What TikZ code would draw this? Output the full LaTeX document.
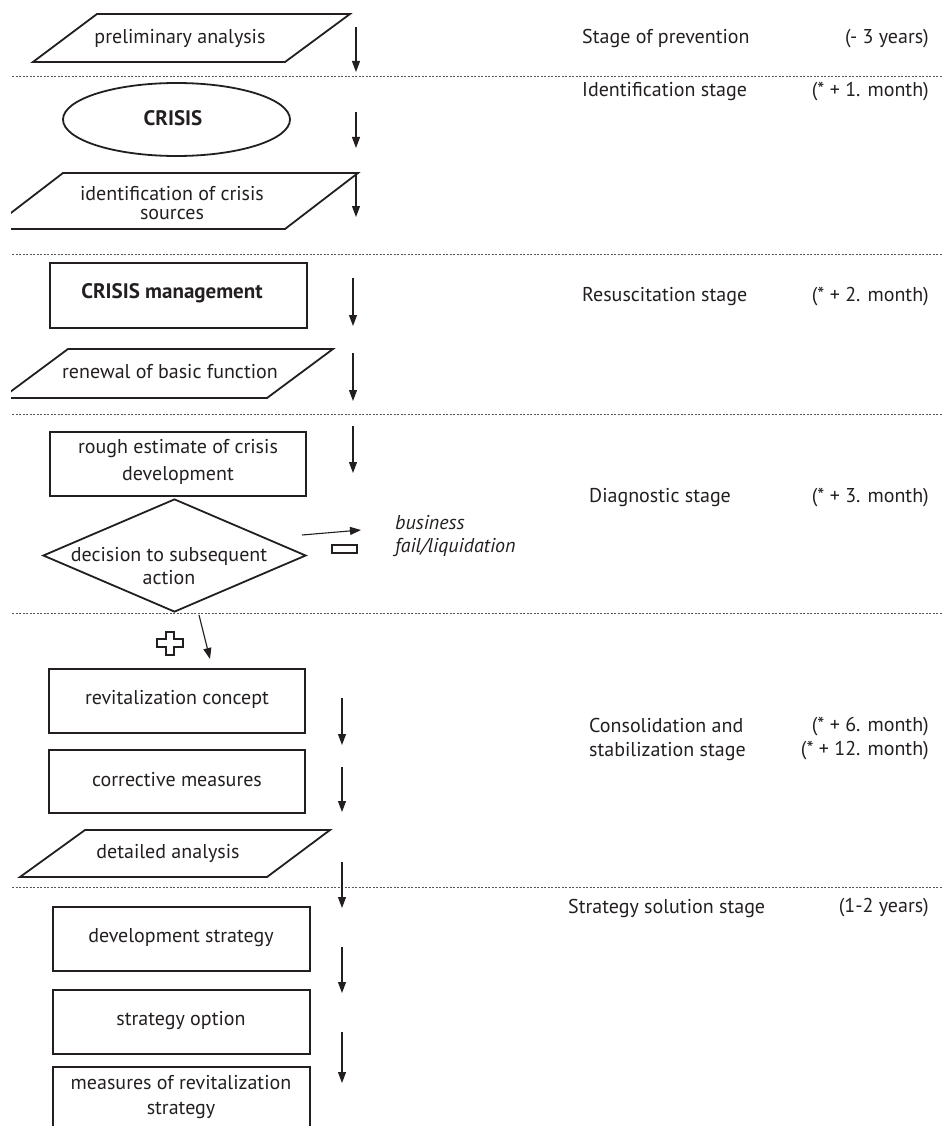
\documentclass[tikz,border=0pt]{standalone}
\usepackage{fontspec}
\setmainfont{PT Sans}
\usetikzlibrary{arrows.meta,shapes.geometric}
\definecolor{ink}{HTML}{231F20}
\begin{document}
\begin{tikzpicture}[x=1pt,y=-1pt,
  shp/.style={draw=ink,line width=1.8pt},
  box/.style={shp,rectangle,inner sep=0pt},
  fs/.style={font=\fontsize{20}{#1}\selectfont},
  lbl/.style={text=ink,align=center,inner sep=0pt},
  flow/.style={draw=ink,line width=1.1pt,-{Triangle[length=11pt,width=8pt]}},
  sep/.style={draw=ink!75,line width=0.9pt,dash pattern=on 2pt off 1.5pt},
  stage/.style={text=ink,anchor=west,align=left,inner sep=0pt,fs=24},
  time/.style={text=ink,anchor=east,align=right,inner sep=0pt,fs=24}]
\useasboundingbox (0,0) rectangle (942,1126);

% separators
\foreach \yy in {76,254,414,613,887}{\draw[sep] (12,\yy) -- (942,\yy);}

% preliminary analysis
\draw[shp] (97,14) -- (350,14) -- (285,62) -- (33,62) -- cycle;
\node[lbl,fs=22] (pa) at (180,38) {preliminary analysis};

% CRISIS
\node[shp,ellipse,minimum width=227pt,minimum height=73pt,inner sep=0pt] (crisis) at (176.5,119.5) {};
\node[lbl,font=\fontsize{21}{24}\selectfont\bfseries] (crisisT) at (173,118) {CRISIS};

% identification of crisis sources / renewal (left ends cut off)
\begin{scope}
\clip (11,0) rectangle (942,1126);
\draw[shp] (63,173) -- (358,173) -- (285,229) -- (-10,229) -- cycle;
\draw[shp] (68,349) -- (333,349) -- (267,398) -- (2,398) -- cycle;
\end{scope}
\node[lbl,fs=19] (ident) at (172,203) {identification of crisis\\sources};

% CRISIS management
\node[box,minimum width=257pt,minimum height=65pt] (cm) at (178.5,295.5) {};
\node[lbl,font=\fontsize{21}{24}\selectfont\bfseries] (cmT) at (172,293) {CRISIS management};

% renewal
\node[lbl,fs=22] (renew) at (170,372) {renewal of basic function};

% rough estimate
\node[box,minimum width=256pt,minimum height=64pt] (rough) at (178,464) {};
\node[lbl,fs=27] (roughT) at (178,462) {rough estimate of crisis\\development};

% decision
\node[shp,diamond,minimum width=263pt,minimum height=113pt,inner sep=0pt] (dec) at (174.5,555.5) {};
\node[lbl,fs=23] (decT) at (169,566) {decision to subsequent\\action};

% business fail
\node[lbl,anchor=west,align=left,font=\fontsize{20}{23}\selectfont\itshape] (fail) at (395,536) {business\\fail/liquidation};
\coordinate (f1) at (302,535);
\coordinate (f2) at (361,530);
\draw[flow] (f1) -- (f2);
\draw[draw=ink,line width=1.3pt] (332,545) rectangle (357,553);

% plus
\draw[draw=ink,line width=1.5pt] (166,632)--(174,632)--(174,639)--(183,639)--(183,647)--(174,647)--(174,655)--(166,655)--(166,647)--(157,647)--(157,639)--(166,639)--cycle;
\coordinate (p1) at (199,615);
\coordinate (p2) at (210,659);
\draw[flow] (p1) -- (p2);

% revitalization concept
\node[box,minimum width=256pt,minimum height=64pt] (revit) at (177,701) {};
\node[lbl,fs=22] (revitT) at (177,699) {revitalization concept};
% corrective measures
\node[box,minimum width=256pt,minimum height=63pt] (corr) at (177,781.5) {};
\node[lbl,fs=22] (corrT) at (177,780) {corrective measures};
% detailed analysis
\draw[shp] (85,830) -- (330,830) -- (267,877) -- (20,877) -- cycle;
\node[lbl,fs=22] (det) at (168,853) {detailed analysis};
% development strategy
\node[box,minimum width=257pt,minimum height=64pt] (devs) at (181.5,939) {};
\node[lbl,fs=22] (devsT) at (181,938) {development strategy};
% strategy option
\node[box,minimum width=257pt,minimum height=64pt] (sopt) at (181.5,1022) {};
\node[lbl,fs=22] (soptT) at (181,1021) {strategy option};
% measures
\node[box,minimum width=257pt,minimum height=80pt,anchor=north] (meas) at (181.5,1066) {};
\node[lbl,fs=25] (measT) at (181,1097) {measures of revitalization\\strategy};

% side arrows
\foreach \n/\xx/\ya/\yb in {1/356/27/72, 2/356/112/148, 3/356/173/217, 4/353/278/326, 5/353/353/401, 6/353/426/473, 7/342/698/745, 8/342/767/812, 9/342/862/908, 10/342/947/993, 11/342/1032/1083}{
  \coordinate (s\n) at (\xx,\ya);
  \coordinate (e\n) at (\xx,\yb);
  \draw[flow] (s\n) -- (e\n);
}

% stages
\node[stage] (st1) at (582,39) {Stage of prevention};
\node[time] (t1) at (929,39) {(- 3 years)};
\node[stage] (st2) at (582,92) {Identification stage};
\node[time] (t2) at (929,92) {(* + 1. month)};
\node[stage] (st3) at (582,297) {Resuscitation stage};
\node[time] (t3) at (929,297) {(* + 2. month)};
\node[stage] (st4) at (589,498) {Diagnostic stage};
\node[time] (t4) at (929,498) {(* + 3. month)};
\node[stage] (st5) at (589,739) {Consolidation and\\stabilization stage};
\node[time] (t5) at (929,739) {(* + 6. month)\\(* + 12. month)};
\node[stage] (st6) at (568,908) {Strategy solution stage};
\node[time] (t6) at (929,908) {(1-2 years)};
\end{tikzpicture}
\end{document}
